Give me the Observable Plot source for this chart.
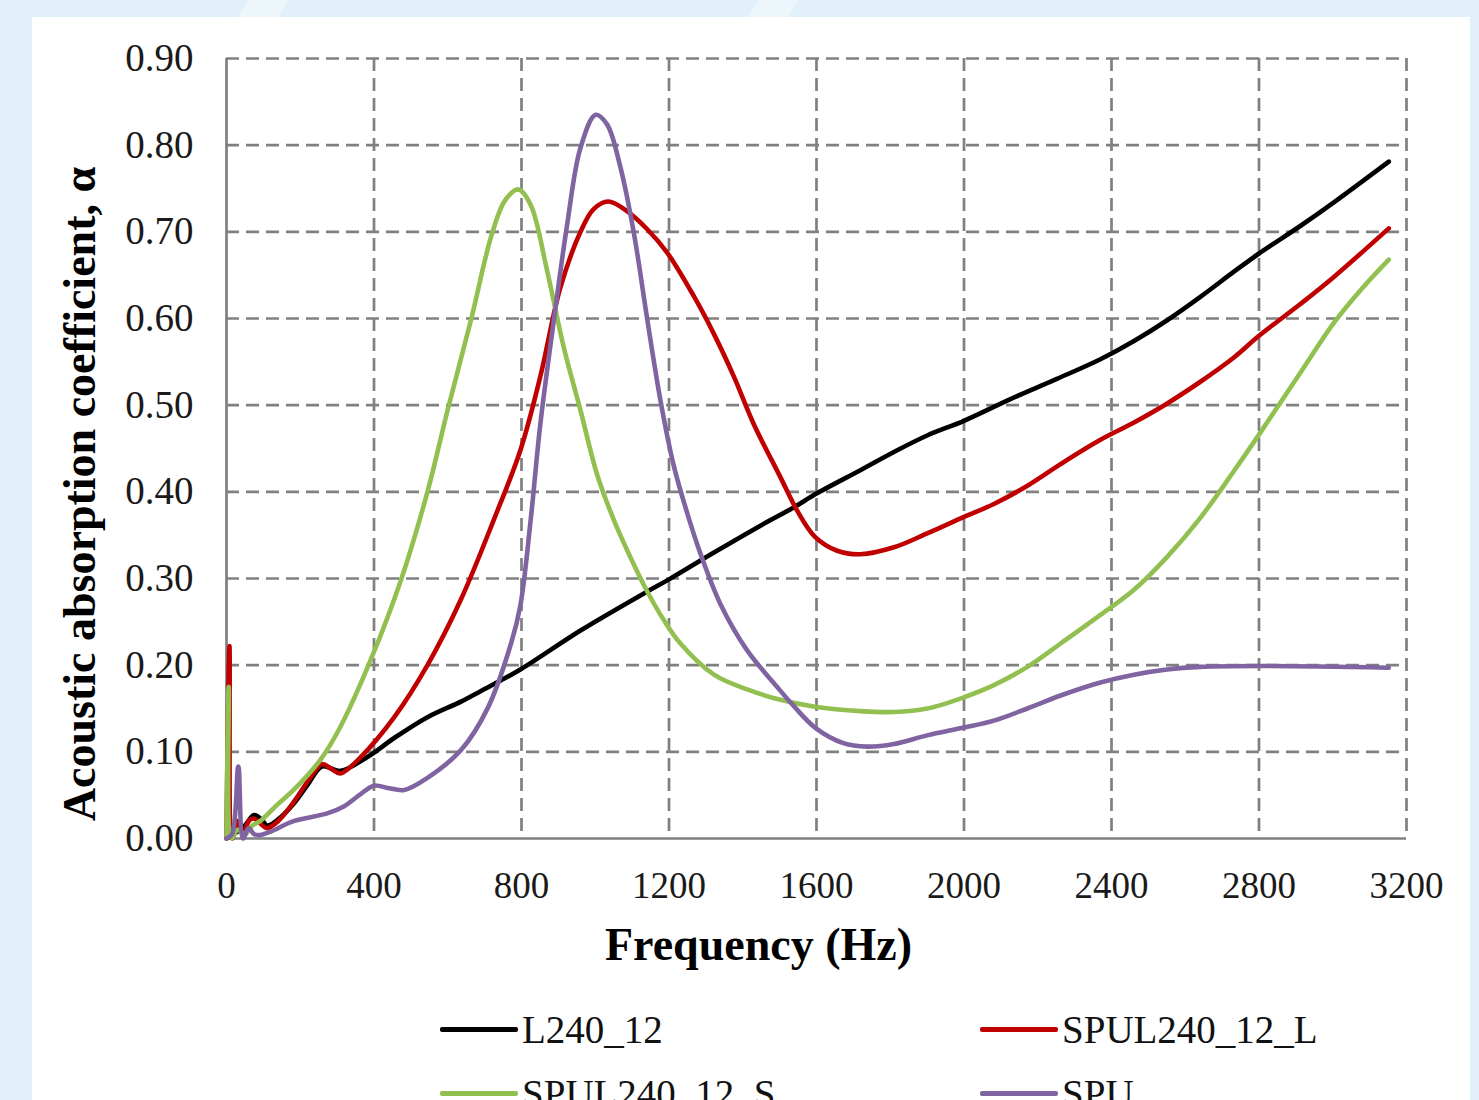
<!DOCTYPE html>
<html>
<head>
<meta charset="utf-8">
<script src="https://cdn.jsdelivr.net/npm/d3@7"></script>
<script src="https://cdn.jsdelivr.net/npm/@observablehq/plot@0.6"></script>
<style>
  html, body { margin: 0; padding: 0; }
  body {
    width: 1479px; height: 1100px; overflow: hidden; position: relative;
    background: #e2f1f9;
    font-family: "Liberation Serif", "Times New Roman", serif;
  }
  .deco { position: absolute; background: rgba(255,255,255,0.35); transform-origin: 0 0; }
  .decog { position: absolute; background: rgba(200,205,220,0.35); transform-origin: 0 0; }
  #panel { position: absolute; left: 32px; top: 17px; width: 1438px; height: 1100px; background: #ffffff; }
  #chart { position: absolute; left: 32px; top: 17px; }
  .title { position: absolute; font-weight: bold; color: #000; white-space: nowrap; }
  #xtitle { left: 0; width: 1479px; text-align: center; top: 918px; font-size: 46px; padding-left: 38px; box-sizing: border-box; }
  #ytitle { left: 79px; top: 494px; font-size: 46px; transform: translate(-50%, -50%) rotate(-90deg); }
  .leg { position: absolute; font-size: 39px; color: #111; white-space: nowrap; line-height: 1; }
  .leg span.sw { position: absolute; left: 0; top: 50%; width: 78px; height: 5px; margin-top: -3px; border-radius: 2px; }
  .leg span.tx { padding-left: 82px; }
</style>
</head>
<body>
<div class="deco" style="left:260px; top:-20px; width:40px; height:120px; transform: skewX(-30deg);"></div>
<div class="deco" style="left:770px; top:-20px; width:40px; height:60px; transform: skewX(-30deg);"></div>
<div class="decog" style="left:-40px; top:300px; width:30px; height:120px; transform: skewY(-35deg);"></div>
<div class="decog" style="left:-40px; top:980px; width:30px; height:90px; transform: skewY(35deg);"></div>
<div id="panel"></div>
<div id="chart"></div>
<div id="xtitle" class="title">Frequency (Hz)</div>
<div id="ytitle" class="title">Acoustic absorption coefficient, α</div>
<div id="legend"></div>
<script>
// ---- Data ----
const seriesNames = ["L240_12", "SPUL240_12_L", "SPUL240_12_S", "SPU"];
const seriesColors = ["#000000", "#c00000", "#92c050", "#8064a2"];

const xTicks = [0, 400, 800, 1200, 1600, 2000, 2400, 2800, 3200];
const yTicks = [0, 0.1, 0.2, 0.3, 0.4, 0.5, 0.6, 0.7, 0.8, 0.9];

const l240Freq  = [0, 20, 50, 75, 95, 110, 140, 182, 220, 259, 309, 382, 455, 545, 636, 689, 797, 960, 1141, 1200, 1322, 1448, 1538, 1600, 1719, 1810, 1900, 2000, 2126, 2250, 2370, 2461, 2551, 2641, 2732, 2800, 2913, 3003, 3152];
const l240Alpha = [0.0, 0.005, 0.015, 0.027, 0.022, 0.015, 0.022, 0.040, 0.062, 0.083, 0.078, 0.094, 0.116, 0.140, 0.158, 0.170, 0.195, 0.240, 0.285, 0.299, 0.330, 0.361, 0.382, 0.398, 0.425, 0.446, 0.465, 0.482, 0.507, 0.530, 0.553, 0.574, 0.598, 0.625, 0.654, 0.675, 0.707, 0.734, 0.781];

const spulLFreq  = [0, 8, 16, 30, 45, 60, 73, 90, 109, 140, 182, 227, 259, 285, 309, 364, 455, 545, 636, 727, 797, 851, 905, 960, 995, 1035, 1086, 1141, 1195, 1267, 1322, 1376, 1430, 1502, 1548, 1596, 1656, 1719, 1810, 1900, 2000, 2081, 2172, 2262, 2370, 2461, 2551, 2641, 2732, 2800, 2913, 3003, 3152];
const spulLAlpha = [0.0, 0.222, 0.0, 0.020, 0.005, 0.020, 0.023, 0.018, 0.012, 0.020, 0.042, 0.070, 0.086, 0.080, 0.075, 0.094, 0.140, 0.200, 0.276, 0.370, 0.448, 0.533, 0.635, 0.700, 0.726, 0.735, 0.724, 0.703, 0.676, 0.626, 0.582, 0.533, 0.478, 0.417, 0.378, 0.348, 0.332, 0.328, 0.336, 0.352, 0.371, 0.386, 0.407, 0.432, 0.460, 0.480, 0.502, 0.527, 0.555, 0.580, 0.617, 0.648, 0.704];

const spulSFreq  = [0, 6, 14, 30, 50, 70, 91, 140, 182, 255, 309, 391, 473, 545, 600, 664, 718, 755, 791, 825, 870, 915, 960, 1005, 1050, 1096, 1141, 1186, 1231, 1322, 1412, 1502, 1596, 1719, 1810, 1900, 2000, 2081, 2172, 2262, 2370, 2461, 2551, 2641, 2732, 2800, 2913, 3003, 3080, 3152];
const spulSAlpha = [0.0, 0.175, 0.0, 0.010, 0.005, 0.015, 0.020, 0.040, 0.056, 0.091, 0.129, 0.206, 0.298, 0.400, 0.495, 0.600, 0.695, 0.736, 0.749, 0.731, 0.654, 0.566, 0.494, 0.420, 0.368, 0.324, 0.285, 0.252, 0.225, 0.189, 0.172, 0.160, 0.152, 0.147, 0.146, 0.150, 0.163, 0.177, 0.198, 0.225, 0.258, 0.287, 0.325, 0.370, 0.424, 0.466, 0.538, 0.595, 0.635, 0.668];

const spuFreq  = [0, 15, 32, 45, 60, 75, 91, 120, 182, 273, 318, 360, 400, 440, 482, 545, 636, 709, 773, 797, 825, 851, 888, 924, 960, 1001, 1032, 1068, 1105, 1141, 1177, 1213, 1249, 1285, 1340, 1412, 1493, 1538, 1596, 1673, 1737, 1810, 1900, 2000, 2081, 2172, 2262, 2370, 2461, 2551, 2641, 2800, 3152];
const spuAlpha = [0.0, 0.005, 0.083, 0.0, 0.012, 0.005, 0.004, 0.008, 0.020, 0.029, 0.037, 0.050, 0.061, 0.058, 0.056, 0.070, 0.102, 0.151, 0.227, 0.269, 0.368, 0.478, 0.599, 0.709, 0.797, 0.835, 0.824, 0.775, 0.698, 0.599, 0.505, 0.430, 0.376, 0.329, 0.270, 0.217, 0.175, 0.153, 0.128, 0.110, 0.106, 0.109, 0.119, 0.128, 0.136, 0.150, 0.165, 0.180, 0.189, 0.195, 0.198, 0.199, 0.197];

// ---- Build table ----
const freqs = [l240Freq, spulLFreq, spulSFreq, spuFreq];
const alphas = [l240Alpha, spulLAlpha, spulSAlpha, spuAlpha];
const rows = [];
seriesNames.forEach((name, i) => {
  freqs[i].forEach((f, j) => rows.push({series: name, freq: f, alpha: alphas[i][j]}));
});

const W = 1438, H = 960;
const gridStyle = {stroke: "#808080", strokeOpacity: 1, strokeWidth: 2.7, strokeDasharray: "13,7"};

const chart = Plot.plot({
  width: W,
  height: H,
  marginLeft: 194,
  marginRight: 64,
  marginTop: 41,
  marginBottom: H - 821,
  style: {fontFamily: "'Liberation Serif', 'Times New Roman', serif", background: "transparent", overflow: "visible"},
  x: {domain: [0, 3200], label: null},
  y: {domain: [0, 0.9], label: null},
  color: {domain: seriesNames, range: seriesColors},
  marks: [
    Plot.gridX(xTicks.filter(d => d > 0), gridStyle),
    Plot.gridY(yTicks.filter(d => d > 0), gridStyle),
    Plot.ruleX([0], {stroke: "#808080", strokeWidth: 2.7}),
    Plot.ruleY([0], {stroke: "#808080", strokeWidth: 2.7}),
    Plot.axisX(xTicks, {tickSize: 0, tickPadding: 33, fontSize: 37, fill: "#1a1a1a", label: null, tickFormat: d => String(d)}),
    Plot.axisY(yTicks, {tickSize: 0, tickPadding: 33, fontSize: 39, fill: "#1a1a1a", label: null, tickFormat: d => d.toFixed(2)}),
    Plot.line(rows, {x: "freq", y: "alpha", z: "series", stroke: "series", strokeWidth: 4.6, curve: "catmull-rom", strokeLinejoin: "round", strokeLinecap: "round"})
  ]
});
document.getElementById("chart").appendChild(chart);

// ---- Legend ----
const legendPos = [[440, 1029], [980, 1029], [440, 1093], [980, 1093]];
const legend = document.getElementById("legend");
seriesNames.forEach((name, i) => {
  const d = document.createElement("div");
  d.className = "leg";
  d.style.left = legendPos[i][0] + "px";
  d.style.top = (legendPos[i][1] - 19) + "px";
  d.innerHTML = `<span class="sw" style="background:${seriesColors[i]}"></span><span class="tx">${name}</span>`;
  legend.appendChild(d);
});
</script>
</body>
</html>
